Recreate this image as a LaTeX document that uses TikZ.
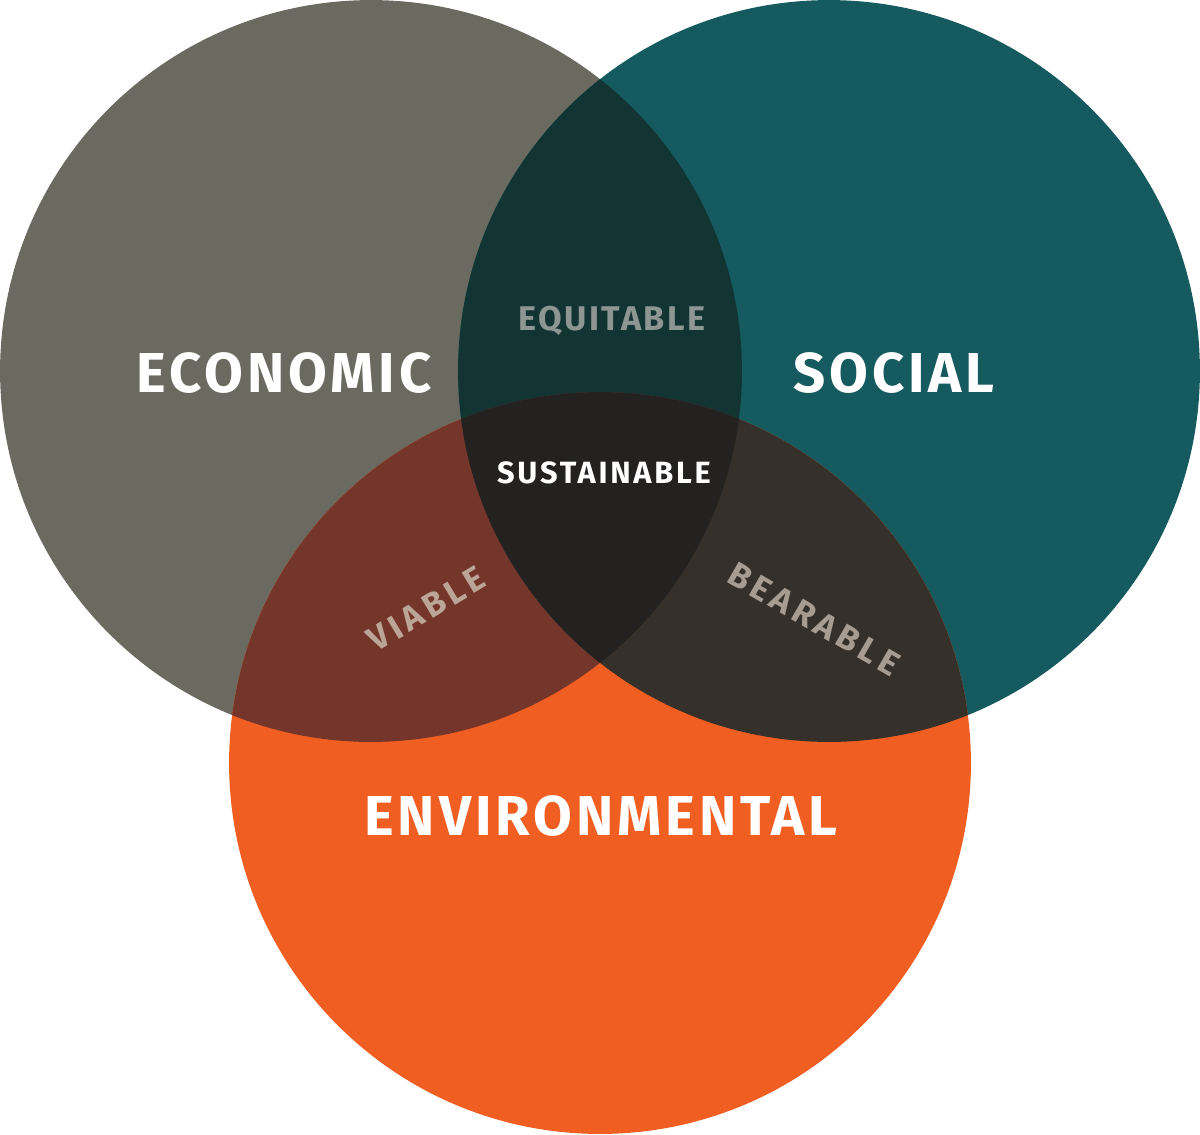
\documentclass[tikz,border=0pt]{standalone}
\usepackage{fontspec}
\setmainfont{Fira Sans}[LetterSpace=7]
\usepackage{tikz}
\definecolor{econ-grey}{HTML}{6B6A60}
\definecolor{social-teal}{HTML}{145A5F}
\definecolor{env-orange}{HTML}{F15E22}
\definecolor{equit-dark}{HTML}{123433}
\definecolor{viable-brown}{HTML}{74362A}
\definecolor{bear-dark}{HTML}{35302A}
\definecolor{sustain-black}{HTML}{232220}
\definecolor{equit-text}{HTML}{8D9693}
\definecolor{viable-text}{HTML}{BBA597}
\definecolor{bear-text}{HTML}{A69C92}
\newcommand{\ringrad}{7.42cm}

\begin{document}
\begin{tikzpicture}[x=0.02cm, y=-0.02cm,
		pillar/.style={text=white, font=\bfseries\fontsize{32}{32}\selectfont},
		overlap/.style={font=\bfseries\fontsize{19.5}{19.5}\selectfont},
		small/.style={font=\bfseries\fontsize{17.5}{17.5}\selectfont\addfontfeatures{LetterSpace=9}},
		tilted/.style={font=\bfseries\fontsize{19.5}{19.5}\selectfont\addfontfeatures{LetterSpace=14}}]
		
		\useasboundingbox (0,0) rectangle (1200,1134);
		
		% Centres of the three circles
		\coordinate (econ) at (371,371);
		\coordinate (social) at (829,371);
		\coordinate (env) at (600,763);
		
		% Draw the three circles
		\fill[econ-grey] (econ) circle [radius=\ringrad];
		\fill[social-teal] (social) circle [radius=\ringrad];
		\fill[env-orange] (env) circle [radius=\ringrad];
		
		% Draw the pairwise overlaps
		\begin{scope}
			\clip (econ) circle [radius=\ringrad];
			\fill[equit-dark] (social) circle [radius=\ringrad];
			\fill[viable-brown] (env) circle [radius=\ringrad];
		\end{scope}
		\begin{scope}
			\clip (social) circle [radius=\ringrad];
			\fill[bear-dark] (env) circle [radius=\ringrad];
		\end{scope}
		
		% Draw the centre overlap
		\begin{scope}
			\clip (econ) circle [radius=\ringrad];
			\clip (social) circle [radius=\ringrad];
			\fill[sustain-black] (env) circle [radius=\ringrad];
		\end{scope}
		
		% Add the labels
		\node (economic) [pillar] at (284,373) {ECONOMIC};
		\node (socialtext) [pillar] at (894,373) {SOCIAL};
		\node (environmental) [pillar] at (601,816) {ENVIRONMENTAL};
		\node (equitable) [overlap, text=equit-text] at (612,321) {EQUITABLE};
		\node (sustainable) [small, text=white] at (604,473) {SUSTAINABLE};
		\node (viable) [tilted, text=viable-text, rotate=31] at (426,609) {VIABLE};
		\node (bearable) [tilted, text=bear-text, rotate=-30] at (814,619) {BEARABLE};
		\end{tikzpicture}
\end{document}
